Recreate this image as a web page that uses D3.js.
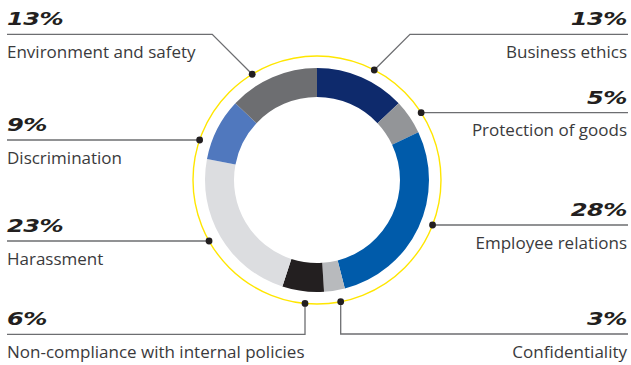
<!DOCTYPE html>
<html><head><meta charset="utf-8">
<script src="https://cdn.jsdelivr.net/npm/d3@7"></script>
<style>body{margin:0;background:#fff}svg{display:block}</style>
</head><body>
<svg id="chart" width="631" height="365"></svg>
<script>
const categories = ["Business ethics","Protection of goods","Employee relations","Confidentiality","Non-compliance with internal policies","Harassment","Discrimination","Environment and safety"];
const values = [13,5,28,3,6,23,9,13];
const colors = ["#0e2a6c","#939598","#005baa","#b8babd","#231f20","#dcdde0","#5078be","#6d6e71"];

// label layout (not data): side, line y, leader type
const layout = [
  {side:"right", y:34.3, type:"diag", ang:27.5},
  {side:"right", y:112.7, type:"h"},
  {side:"right", y:225, type:"h"},
  {side:"right", y:334, type:"vert", x:340.7},
  {side:"left", y:334.3, type:"vert", x:305},
  {side:"left", y:241, type:"h"},
  {side:"left", y:140, type:"h"},
  {side:"left", y:34.3, type:"diag", ang:-31.5}
];

const svg = d3.select("#chart");
const cx = 317, cy = 180, rOut = 112, rIn = 83, rRing = 124;
const g = svg.append("g").attr("transform", `translate(${cx},${cy})`);

const pie = d3.pie().sort(null).value(d => d)(values);
const arc = d3.arc().innerRadius(rIn).outerRadius(rOut);
g.selectAll("path.slice").data(pie).join("path")
  .attr("class","slice").attr("d", arc).attr("fill", (d,i)=>colors[i]);

g.append("circle").attr("r", rRing).attr("fill","none").attr("stroke","#ffe600").attr("stroke-width",1.4);

const lineColor = "#6d6e71";
const leftX = 7, rightX = 628;
const lines = svg.append("g");
const dots = svg.append("g");
const texts = svg.append("g");

layout.forEach((L,i) => {
  let dx, dy;
  let pts;
  if (L.type === "h") {
    const off = L.y - cy;
    const w = Math.sqrt(rRing*rRing - off*off);
    dx = L.side === "left" ? cx - w : cx + w; dy = L.y;
    pts = [[L.side==="left"?leftX:rightX, L.y],[dx,dy]];
  } else if (L.type === "vert") {
    const off = L.x - cx;
    dx = L.x; dy = cy + Math.sqrt(rRing*rRing - off*off);
    pts = [[L.side==="left"?leftX:rightX, L.y],[L.x, L.y],[dx,dy]];
  } else {
    const a = L.ang*Math.PI/180;
    dx = cx + rRing*Math.sin(a); dy = cy - rRing*Math.cos(a);
    const h = dy - L.y;
    const kx = L.side==="left" ? dx - h : dx + h;
    pts = [[L.side==="left"?leftX:rightX, L.y],[kx, L.y],[dx,dy]];
  }
  lines.append("path").attr("d", d3.line()(pts)).attr("fill","none")
    .attr("stroke", lineColor).attr("stroke-width",1.3);
  dots.append("circle").attr("cx",dx).attr("cy",dy).attr("r",3.4).attr("fill","#231f20");

  const anchor = L.side==="left" ? "start" : "end";
  const tx = L.side==="left" ? leftX : rightX - 1;
  texts.append("g").attr("transform", `translate(${tx},${L.y-9}) scale(1.38,1)`)
    .append("text").attr("text-anchor",anchor)
    .attr("font-family","DejaVu Sans").attr("font-weight","bold").attr("font-style","italic")
    .attr("font-size",17.5).attr("letter-spacing",-0.4).attr("fill","#231f20")
    .text(values[i] + "%");
  texts.append("text").attr("x",tx).attr("y",L.y+23.5).attr("text-anchor",anchor)
    .attr("font-family","Open Sans").attr("font-size",17).attr("fill","#3a3a3c")
    .text(categories[i]);
});
</script>
</body></html>
